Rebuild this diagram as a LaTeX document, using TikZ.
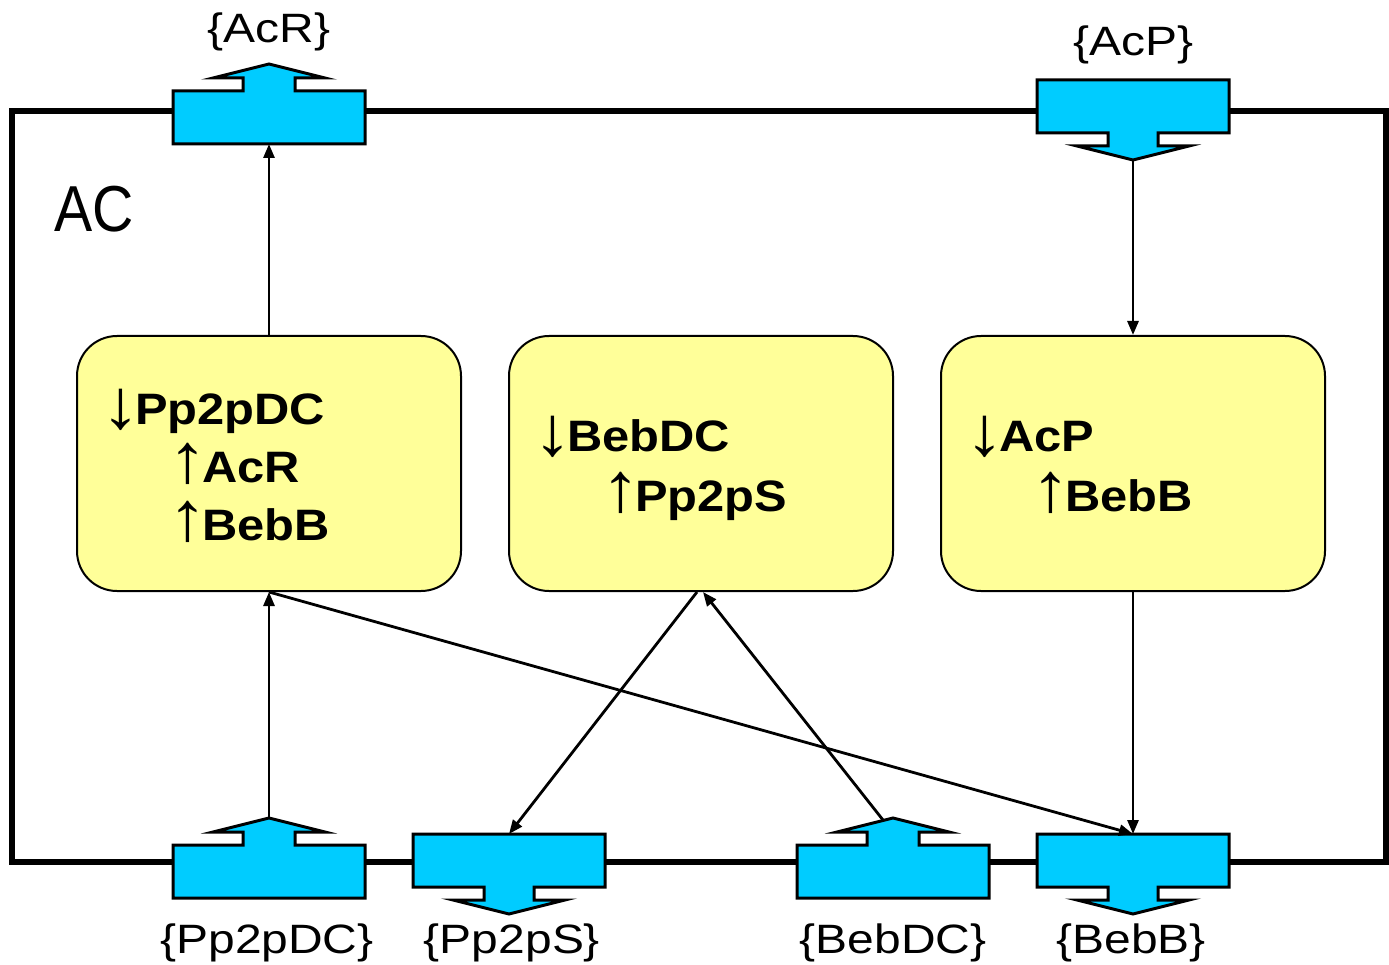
\documentclass[tikz,border=0pt]{standalone}
\usepackage{fontspec}
\setmainfont{Liberation Sans}
\newfontfamily\lblfont[FakeStretch=1.17]{Liberation Sans}
\newfontfamily\boxfont[FakeStretch=1.11]{Liberation Sans}
\newfontfamily\acfont[FakeStretch=0.88]{Liberation Sans}
\usetikzlibrary{arrows.meta}
\definecolor{portblue}{HTML}{00CCFF}
\definecolor{boxyellow}{HTML}{FFFF99}
\tikzset{
  portshape/.style={draw=black,fill=portblue,line width=3pt,line join=miter},
  procbox/.style={draw=black,fill=boxyellow,line width=2pt,rounded corners=40pt,minimum width=384pt,minimum height=255pt,inner sep=0pt},
  conn/.style={line width=2.8pt,-{Triangle[length=14pt,width=11pt]}},
  portlabel/.style={font=\lblfont\fontsize{41}{44}\selectfont,inner sep=0pt,anchor=base},
  boxtext/.style={font=\boxfont\fontsize{44}{48}\selectfont\bfseries,inner sep=0pt,anchor=base west},
}
\newcommand{\uparr}{\smash{\mdseries\fontsize{70}{70}\selectfont\char"2191}\hspace{-5pt}}
\newcommand{\dnarr}{\smash{\raisebox{-4pt}{\mdseries\fontsize{70}{70}\selectfont\char"2193}}\hspace{-5pt}}
\begin{document}
\begin{tikzpicture}[x=1pt,y=-1pt]
\useasboundingbox (0,0) rectangle (1389,965);
% outer frame
\draw[line width=6pt] (12,111) rectangle (1386,862);
\node[anchor=base west,inner sep=0pt,font=\acfont\fontsize{65}{70}\selectfont] (ac) at (54,232) {AC};
% up ports
\foreach \name/\cx/\t in {acr/269/91, ppdc/269/845, bebdc/893/845}{
  \draw[portshape] (\cx-96,\t+53) -- (\cx-96,\t) -- (\cx-26,\t) -- (\cx-26,\t-13) -- (\cx-56,\t-13) -- (\cx,\t-27) -- (\cx+56,\t-13) -- (\cx+26,\t-13) -- (\cx+26,\t) -- (\cx+96,\t) -- (\cx+96,\t+53) -- cycle;
  \coordinate (\name-tip) at (\cx,\t-27);
  \coordinate (\name-bot) at (\cx,\t+53);
}
% down ports
\foreach \name/\cx/\t in {acp/1133/80, pps/509/834, bebb/1133/834}{
  \draw[portshape] (\cx-96,\t) -- (\cx+96,\t) -- (\cx+96,\t+53) -- (\cx+25,\t+53) -- (\cx+25,\t+66) -- (\cx+56,\t+66) -- (\cx,\t+80) -- (\cx-56,\t+66) -- (\cx-25,\t+66) -- (\cx-25,\t+53) -- (\cx-96,\t+53) -- cycle;
  \coordinate (\name-top) at (\cx,\t);
  \coordinate (\name-tip) at (\cx,\t+80);
}
% port labels
\node[portlabel] (lacr) at (269,43) {\{AcR\}};
\node[portlabel] (lacp) at (1133,56) {\{AcP\}};
\node[portlabel] (lppdc) at (267,953) {\{Pp2pDC\}};
\node[portlabel] (lpps) at (512,953) {\{Pp2pS\}};
\node[portlabel] (lbebdc) at (893,953) {\{BebDC\}};
\node[portlabel] (lbebb) at (1131,953) {\{BebB\}};
% process boxes
\node[procbox] (b1) at (269,463.5) {};
\node[procbox] (b2) at (701,463.5) {};
\node[procbox] (b3) at (1133,463.5) {};
\node[boxtext] (t11) at (101,424) {\dnarr Pp2pDC};
\node[boxtext] (t12) at (168,482) {\uparr AcR};
\node[boxtext] (t13) at (168,540) {\uparr BebB};
\node[boxtext] (t21) at (533,451) {\dnarr BebDC};
\node[boxtext] (t22) at (601,511) {\uparr Pp2pS};
\node[boxtext] (t31) at (965,451) {\dnarr AcP};
\node[boxtext] (t32) at (1031,511) {\uparr BebB};
% connectors
\draw[conn] (b1.north) -- (acr-bot);
\draw[conn] (acp-tip) -- (b3.north);
\draw[conn] (b3.south) -- (bebb-top);
\draw[conn] (ppdc-tip) -- (b1.south);
\draw[conn] ([xshift=-4pt]b2.south) -- (pps-top);
\coordinate (bebdc-start) at (883,820);
\draw[conn] (bebdc-start) -- ([xshift=2pt]b2.south);
\draw[conn] (b1.south) -- (bebb-top);
\end{tikzpicture}
\end{document}
